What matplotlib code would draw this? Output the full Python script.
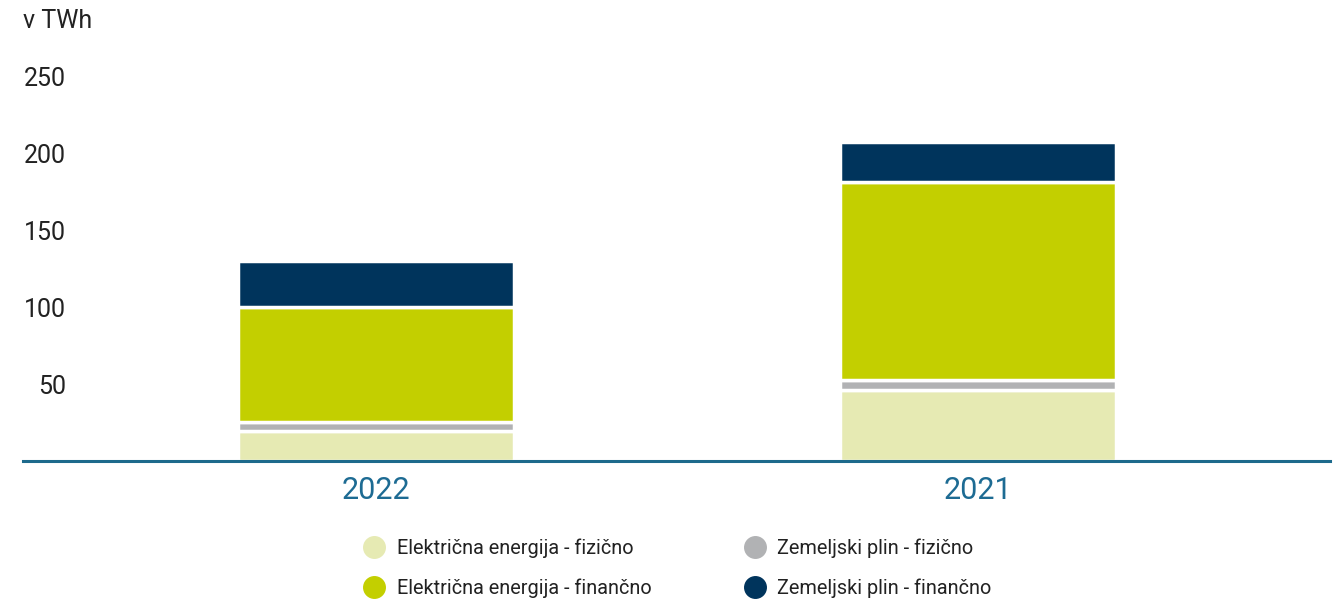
import matplotlib
matplotlib.use("Agg")
import matplotlib.pyplot as plt
from matplotlib.lines import Line2D

plt.rcParams['font.family'] = ['Roboto', 'DejaVu Sans']

years = ["2022", "2021"]
series_labels = [
    "Električna energija - fizično",
    "Zemeljski plin - fizično",
    "Električna energija - finančno",
    "Zemeljski plin - finančno",
]
elektrika_fizicno = [19.3, 45.9]
plin_fizicno = [5.9, 6.6]
elektrika_financno = [75.1, 129.3]
plin_financno = [29.8, 26.0]
yticks = [50, 100, 150, 200, 250]
unit_label = "v TWh"

colors = ["#e6eab3", "#b1b2b4", "#c3cf00", "#00345c"]
series = [elektrika_fizicno, plin_fizicno, elektrika_financno, plin_financno]

fig = plt.figure(figsize=(13.37, 5.99), dpi=100)
ax = fig.add_axes([23/1337, (599-461)/599, (1330-23)/1337, (461-77)/599])

x = list(range(len(years)))
bottom = [0.0] * len(years)
for vals, col in zip(series, colors):
    ax.bar(x, vals, bottom=bottom, width=0.458, color=col,
           edgecolor="white", linewidth=2.5, zorder=1)
    bottom = [b + v for b, v in zip(bottom, vals)]

ax.set_xlim(-0.586, 1.585)
ax.set_ylim(0, 250)
ax.set_xticks(x)
ax.set_xticklabels(years, fontsize=22, color="#1d6b93")
ax.set_yticks(yticks)
ax.set_yticklabels([str(t) for t in yticks], fontsize=18, color="#222222")
ax.tick_params(axis='x', length=0, pad=11)
ax.tick_params(axis='y', length=0, pad=-31)
for lab in ax.get_yticklabels():
    lab.set_horizontalalignment('right')

for s in ["top", "right", "left"]:
    ax.spines[s].set_visible(False)
ax.spines["bottom"].set_color("#1d6a8c")
ax.spines["bottom"].set_linewidth(2.2)
ax.spines["bottom"].set_zorder(3)

fig.text(23/1337, 1-21/599, unit_label, fontsize=18, color="#222222",
         ha="left", va="center")

order = [0, 2, 1, 3]
handles = [Line2D([], [], linestyle="none", marker="o", markersize=15.5,
                  markerfacecolor=colors[i], markeredgecolor=colors[i])
           for i in order]
labels = [series_labels[i] for i in order]
leg = fig.legend(handles, labels, ncol=2, loc="center left",
                 bbox_to_anchor=(344/1337, 1-568/599), frameon=False,
                 fontsize=14.3, handlelength=1.2, handletextpad=0.55,
                 columnspacing=4.6, labelspacing=1.05, labelcolor="#222222")

fig.savefig("out.png", dpi=100)
